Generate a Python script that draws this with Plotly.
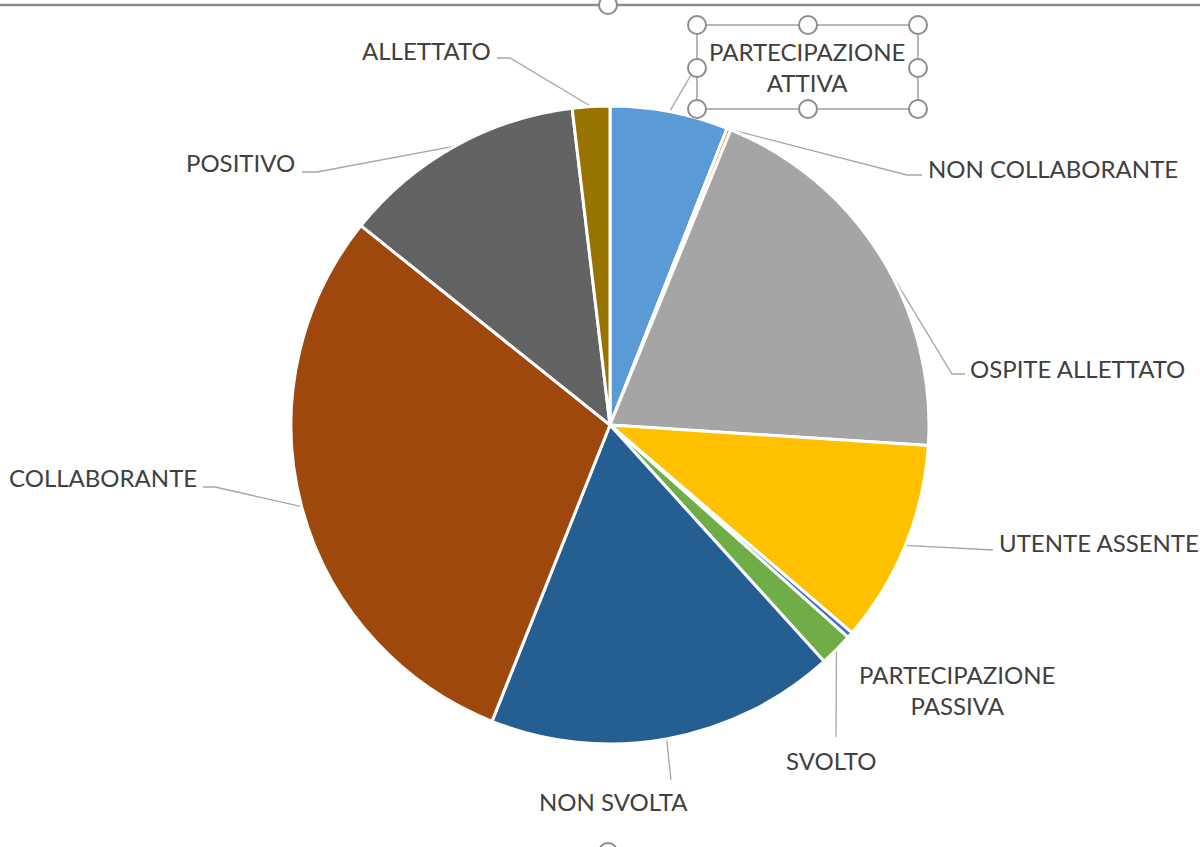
import numpy as np
import plotly.graph_objects as go

# ---------------- data ----------------
categories = [
    "PARTECIPAZIONE ATTIVA", "NON COLLABORANTE", "OSPITE ALLETTATO", "UTENTE ASSENTE",
    "PARTECIPAZIONE PASSIVA", "SVOLTO", "NON SVOLTA", "COLLABORANTE", "POSITIVO", "ALLETTATO",
]
values = [6.0, 0.2, 19.9, 10.3, 0.3, 1.7, 17.8, 29.8, 12.4, 1.9]
label_texts = [
    "PARTECIPAZIONE<br>ATTIVA", "NON COLLABORANTE", "OSPITE ALLETTATO", "UTENTE ASSENTE",
    "PARTECIPAZIONE<br>PASSIVA", "SVOLTO", "NON SVOLTA", "COLLABORANTE", "POSITIVO", "ALLETTATO",
]

# ---------------- style / layout ----------------
colors = ["#5B9BD5", "#ED7D31", "#A5A5A5", "#FFC000", "#4472C4",
          "#70AD47", "#255E91", "#9E480E", "#636363", "#997300"]
W, H = 1200, 847
CX, CY, R = 610, 425, 319          # pie centre / radius in pixels
FONT = "Lato"
FSIZE = 24
TXT = "#404040"
LEAD = "#A6A6A6"

# label placement: (x, y, xanchor, leader points after the edge point, show leader)
label_layout = [
    (807, 67, "center", [(695, 68)], True),
    (926, 168, "left", [(907, 175), (922, 175)], True),
    (968, 368, "left", [(952, 374), (965, 374)], True),
    (997, 542, "left", [(993, 550)], True),
    (957, 690, "center", [], False),
    (831, 760, "center", [(836, 737)], True),
    (613, 801, "center", [(671, 780)], True),
    (199, 477, "right", [(215, 487), (203, 487)], True),
    (297, 162, "right", [(317, 172), (302, 172)], True),
    (493, 50, "right", [(510, 58), (497, 58)], True),
]

fig = go.Figure()

fig.add_trace(go.Pie(
    labels=categories, values=values, sort=False, direction="clockwise", rotation=0,
    marker=dict(colors=colors, line=dict(color="white", width=3)),
    textinfo="none", hoverinfo="label+percent", showlegend=False,
    domain=dict(x=[(CX - R) / W, (CX + R) / W], y=[(H - CY - R) / H, (H - CY + R) / H]),
))

# leader lines derived from slice mid-angles
vals = np.array(values, dtype=float)
cum = np.cumsum(vals) / vals.sum()
mid = (cum - vals / vals.sum() / 2) * 2 * np.pi
for i, (lx, ly, anc, pts, show) in enumerate(label_layout):
    ex = CX + R * np.sin(mid[i])
    ey = CY - R * np.cos(mid[i])
    if show:
        xs = [ex] + [p[0] for p in pts]
        ys = [ey] + [p[1] for p in pts]
        fig.add_trace(go.Scatter(x=xs, y=ys, mode="lines", line=dict(color=LEAD, width=1.3),
                                 hoverinfo="skip", showlegend=False))
    fig.add_annotation(x=lx, y=ly, xref="x", yref="y", text=label_texts[i], showarrow=False,
                       xanchor=anc, yanchor="middle", align="center",
                       font=dict(family=FONT, size=FSIZE, color=TXT))

# chart-area frame and selection handles (Excel UI)
shapes = [
    dict(type="line", x0=0, x1=W, y0=5, y1=5, line=dict(color="#8C8C8C", width=2.5)),
    dict(type="rect", x0=697, x1=918, y0=25, y1=109, line=dict(color="#A0A0A0", width=1.5)),
]
handles = [(608, 5), (608, 852), (697, 25), (808, 25), (918, 25), (697, 68), (918, 68),
           (697, 109), (808, 109), (918, 109)]
for hx, hy in handles:
    shapes.append(dict(type="circle", x0=hx - 9, x1=hx + 9, y0=hy - 9, y1=hy + 9,
                       fillcolor="white", line=dict(color="#8C8C8C", width=2)))
for s in shapes:
    s.update(xref="x", yref="y", layer="above")

fig.update_layout(
    width=W, height=H, autosize=False,
    margin=dict(l=0, r=0, t=0, b=0),
    paper_bgcolor="white", plot_bgcolor="rgba(0,0,0,0)",
    xaxis=dict(range=[0, W], visible=False, domain=[0, 1], fixedrange=True),
    yaxis=dict(range=[H, 0], visible=False, domain=[0, 1], fixedrange=True),
    shapes=shapes,
)

fig.write_html("out.html", config={"displayModeBar": False},
               post_script="document.body.style.margin='0px';document.body.style.overflow='hidden';")
